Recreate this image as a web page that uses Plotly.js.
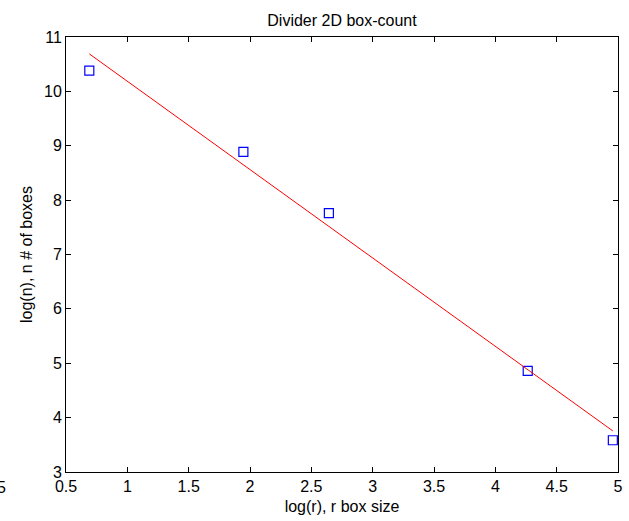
<!DOCTYPE html>
<html>
<head>
<meta charset="utf-8">
<script src="https://cdn.plot.ly/plotly-3.0.1.min.js"></script>
<style>html,body{margin:0;padding:0;background:#fff;}#chart{width:629px;height:521px;}</style>
</head>
<body>
<div id="chart"></div>
<script>
// Data
const logR = [0.69, 1.946, 2.643, 4.264, 4.958];
const logN = [10.38, 8.886, 7.76, 4.86, 3.584];
const fitX = [0.69, 4.958];
const fitY = [10.69, 3.755];
const xTicks = [0.5, 1, 1.5, 2, 2.5, 3, 3.5, 4, 4.5, 5];
const xTickText = ['0.5', '1', '1.5', '2', '2.5', '3', '3.5', '4', '4.5', '5'];
const yTicks = [3, 4, 5, 6, 7, 8, 9, 10, 11];
const yTickText = ['3', '4', '5', '6', '7', '8', '9', '10', '11'];

const fnt = {family: 'Liberation Sans, Arial, sans-serif', size: 16, color: '#000'};

const traces = [
  {x: logR, y: logN, mode: 'markers', type: 'scatter',
   marker: {symbol: 'square-open', size: 9, color: '#0000ff', line: {width: 1.2, color: '#0000ff'}},
   hoverinfo: 'none'},
  {x: fitX, y: fitY, mode: 'lines', type: 'scatter',
   line: {color: '#ff0000', width: 1}, hoverinfo: 'none'}
];

const axisCommon = {
  showgrid: false, zeroline: false, showline: true, linecolor: '#000', linewidth: 1,
  mirror: 'ticks', ticks: 'inside', ticklen: 5, tickwidth: 1, tickcolor: '#000',
  tickfont: fnt, automargin: false
};

const layout = {
  width: 629, height: 521,
  margin: {l: 66, r: 11, t: 37, b: 49, pad: 0},
  paper_bgcolor: '#fff', plot_bgcolor: '#fff',
  showlegend: false,
  font: fnt,
  title: {text: 'Divider 2D box-count', font: fnt, x: 0.5, xanchor: 'center', xref: 'paper', y: 1 - 20/521, yanchor: 'middle'},
  xaxis: Object.assign({}, axisCommon, {
    range: [0.5, 5], tickvals: xTicks, ticktext: xTickText,
    title: {text: 'log(r), r box size', font: fnt, standoff: 6}
  }),
  yaxis: Object.assign({}, axisCommon, {
    range: [3, 11], tickvals: yTicks, ticktext: yTickText,
    title: {text: 'log(n), n # of boxes', font: fnt, standoff: 7}
  }),
  annotations: [
    {text: '5', xref: 'paper', yref: 'paper', x: -0.105, y: -0.0346, xanchor: 'right', yanchor: 'middle', showarrow: false, font: fnt}
  ]
};

Plotly.newPlot('chart', traces, layout, {staticPlot: true, displayModeBar: false});
</script>
</body>
</html>
